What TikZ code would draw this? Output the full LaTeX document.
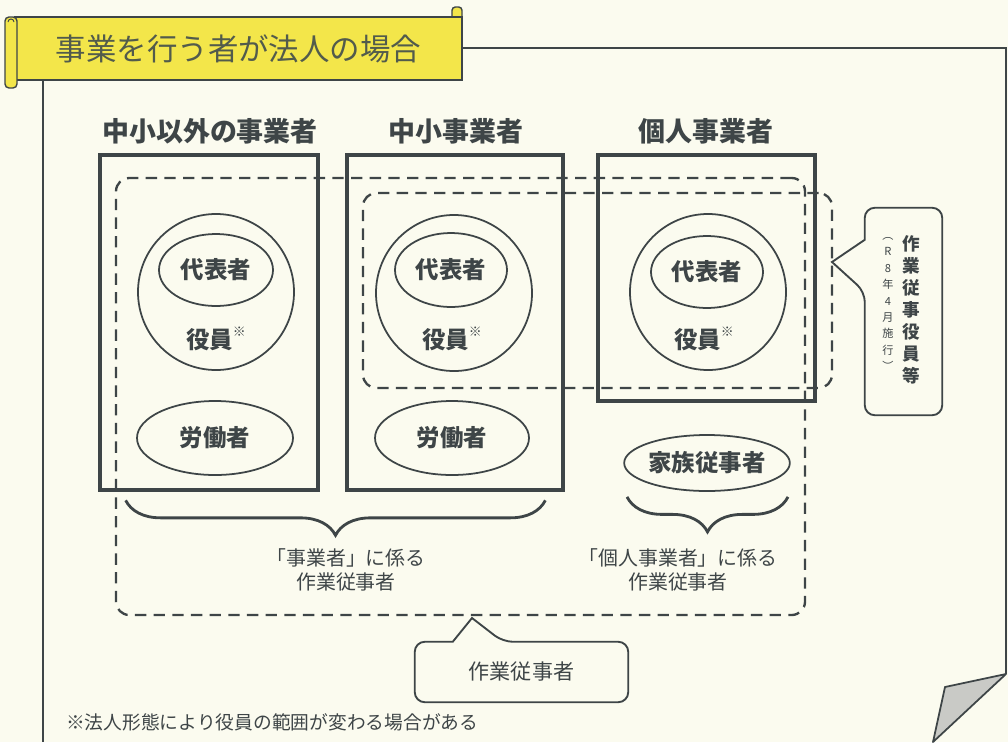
\documentclass[tikz,border=0pt]{standalone}
\usepackage{fontspec}
\setmainfont{Noto Sans CJK JP}
\usepackage{tikz}
\usetikzlibrary{calc,shapes.geometric,decorations.pathreplacing}
\definecolor{ink}{HTML}{3E4547}
\definecolor{paper}{HTML}{FBFBEF}
\definecolor{banner}{HTML}{F3E64A}
\definecolor{bantext}{HTML}{525B4C}
\definecolor{fold}{HTML}{C9CAC6}
\tikzset{%
  wh/.style 2 args={minimum width=#1*0.3mm,minimum height=#2*0.3mm},
  colbox/.style={draw=ink,line width=4pt,inner sep=0},
  rcirc/.style={draw=ink,shape=circle,line width=1.5pt,inner sep=0,minimum size=156*0.3mm},
  ovl/.style={draw=ink,shape=ellipse,line width=1.5pt,inner sep=0,text=ink,font=\bfseries\fontsize{20}{22}\selectfont},
  rtxt/.style={text=ink,inner sep=0,font=\bfseries\fontsize{20}{22}\selectfont},
  dedge/.style={draw=ink,line width=2pt,dash pattern=on 3.4mm off 2.2mm,rounded corners=4mm,inner sep=0},
  head/.style={text=ink,inner sep=0,font=\bfseries\fontsize{23}{25}\selectfont},
  brc/.style={draw=ink,line width=2.4pt,decorate,decoration={brace,mirror,amplitude=10.5mm}},
  lbl/.style={text=ink,align=center,inner sep=0,font=\fontsize{17}{21}\selectfont},
  bub/.style={draw=ink,line width=1.6pt,fill=paper}
}
\newcommand{\yk}{役員\raisebox{.5em}{\mdseries\fontsize{11}{11}\selectfont ※}}

\begin{document}
\begin{tikzpicture}[x=0.3mm,y=-0.3mm]
  \useasboundingbox (0,0) rectangle (1008,742);
  \fill[paper] (0,0) rectangle (1008,742);

  % frame and folded corner
  \draw[ink,line width=1.5pt] (43,80) -- (43,742);
  \draw[ink,line width=1.5pt] (462,48) -- (1006,48) -- (1006,674);
  \filldraw[fill=fold,draw=ink,line width=1.5pt,line join=round] (1006,674) -- (945,687) -- (933,742) -- cycle;

  % title scroll
  \filldraw[fill=banner,draw=ink,line width=1.2pt,rounded corners=1mm] (452,7) rectangle (462,22);
  \node[fill=banner,draw=ink,line width=1.2pt,wh={447}{63},text=bantext,
        font=\fontsize{26}{28}\selectfont] (title) at (238.5,48.5) {事業を行う者が法人の場合};
  \filldraw[fill=banner,draw=ink,line width=1.2pt,rounded corners=1.2mm] (5,17) rectangle (17,88);
  \draw[ink,line width=0.8pt] (8,22) arc (180:360:3);

  % three kinds of business
  \node[colbox,wh={218}{335}] (box1) at (209,322.5) {};
  \node[colbox,wh={216}{335}] (box2) at (455,322.5) {};
  \node[colbox,wh={217}{246}] (box3) at (706.5,278) {};
  \node[head] (hd1) at (210,131) {中小以外の事業者};
  \node[head] (hd2) at (456,131) {中小事業者};
  \node[head] (hd3) at (706,131) {個人事業者};

  \node[rcirc] (yk1) at (216,292) {};
  \node[ovl,wh={114}{72}] (dh1) at (216,270) {代表者};
  \node[rtxt] (ykt1) at (216,339) {\yk};
  \node[ovl,wh={156}{74}] (rd1) at (215,438) {労働者};

  \node[rcirc] (yk2) at (454,293) {};
  \node[ovl,wh={112}{74}] (dh2) at (451,270) {代表者};
  \node[rtxt] (ykt2) at (452,339) {\yk};
  \node[ovl,wh={154}{74}] (rd2) at (452,438) {労働者};

  \node[rcirc] (yk3) at (708,292) {};
  \node[ovl,wh={112}{72}] (dh3) at (707,272) {代表者};
  \node[rtxt] (ykt3) at (704,339) {\yk};
  \node[ovl,wh={150}{56}] (fam) at (707,463) {家族従事者};

  % dashed groups
  \node[dedge,wh={689}{437}] (crew) at (460.5,396.5) {};
  \node[dedge,wh={469}{195}] (offc) at (597.5,290.5) {};

  % braces
  \draw[brc] ($(box1.south west)+(28,8)$) -- ($(box2.south east)+(-20,8)$);
  \draw[brc] ($(fam.south)+(-80,5)$) -- ($(fam.south)+(81,5)$);
  \node[lbl] (lbl1) at (346,570) {「事業者」に係る\\作業従事者};
  \node[lbl] (lbl2) at (678,570) {「個人事業者」に係る\\作業従事者};

  % callout: officers
  \node[wh={77}{207},inner sep=0] (yknote) at (903.5,311.5) {};
  \coordinate (yktip) at (832,262);
  \draw[bub] (yktip) -- ($(yknote.north west)+(0,32)$) [rounded corners=3mm]
    -- (yknote.north west) -- (yknote.north east) -- (yknote.south east)
    -- (yknote.south west) -- ($(yknote.north west)+(0,84)$) [sharp corners] -- cycle;
  \node[text=ink,align=center,inner sep=0,font=\bfseries\fontsize{15}{18.7}\selectfont] (ykbig)
    at (911,310) {作\\業\\従\\事\\役\\員\\等};
  \node[text=ink,align=center,inner sep=0,font=\fontsize{9.5}{14}\selectfont] (yksmall)
    at (888,304) {︵\\R\\8\\年\\4\\月\\施\\行\\︶};

  % callout: workers
  \node[wh={213}{60},inner sep=0] (crewnote) at (521.5,672) {};
  \coordinate (crewtip) at (472,618);
  \draw[bub] (crewtip) -- ($(crewnote.north west)+(38,0)$) [rounded corners=3mm]
    -- (crewnote.north west) -- (crewnote.south west) -- (crewnote.south east)
    -- (crewnote.north east) -- ($(crewnote.north west)+(88,0)$) [sharp corners] -- cycle;
  \node[lbl,font=\fontsize{18}{20}\selectfont] (crewtxt) at (crewnote) {作業従事者};

  \node[anchor=west,text=ink,inner sep=0,font=\fontsize{16}{18}\selectfont] (fn)
    at (66,722) {※法人形態により役員の範囲が変わる場合がある};
\end{tikzpicture}
\end{document}
